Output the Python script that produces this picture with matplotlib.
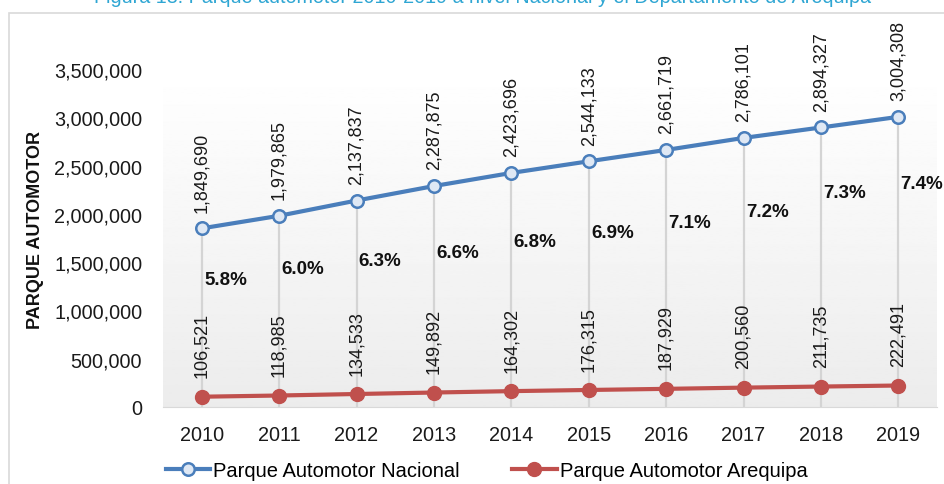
import numpy as np
import matplotlib.pyplot as plt
from matplotlib.patches import Rectangle
from matplotlib.ticker import FuncFormatter

plt.rcParams['font.family'] = ['Liberation Sans', 'DejaVu Sans']

years = [2010, 2011, 2012, 2013, 2014, 2015, 2016, 2017, 2018, 2019]
nacional = [1849690, 1979865, 2137837, 2287875, 2423696, 2544133, 2661719, 2786101, 2894327, 3004308]
arequipa = [106521, 118985, 134533, 149892, 164302, 176315, 187929, 200560, 211735, 222491]
pct_labels = ['5.8%', '6.0%', '6.3%', '6.6%', '6.8%', '6.9%', '7.1%', '7.2%', '7.3%', '7.4%']

# heights where the % labels sit (layout only)
pct_label_y = [1.325e6, 1.43e6, 1.52e6, 1.60e6, 1.71e6, 1.81e6, 1.915e6, 2.02e6, 2.225e6, 2.31e6]

BLUE = '#4a7ebb'
RED = '#c0504d'

fig = plt.figure(figsize=(9.45, 4.85), dpi=100)
ax = fig.add_axes([163 / 945, 77 / 485, 774 / 945, 338 / 485])

# outer frame + title (cut at the top edge, as in the source)
fig.patches.append(Rectangle((9 / 945, -0.1), 1.2, 1 - 14 / 485 + 0.1,
                             transform=fig.transFigure, fill=False,
                             edgecolor='#d9d9d9', linewidth=1.2))
fig.text(483 / 945, 1 - 3 / 485,
         'Figura 18: Parque automotor 2010-2019 a nivel Nacional y el Departamento de Arequipa',
         ha='center', va='baseline', fontsize=14.2, color='#2fa6d3')

# plot area gradient
grad = np.linspace(1.0, 0.925, 256).reshape(-1, 1)
ax.imshow(grad, extent=(2009.5, 2019.5, 0, 3500000), aspect='auto',
          cmap='gray', vmin=0, vmax=1, zorder=0)

# drop lines
ax.vlines(years, 0, nacional, colors='#d4d4d4', linewidth=1.6, zorder=1)

ax.plot(years, nacional, color=BLUE, linewidth=3, marker='o', markersize=9,
        markerfacecolor='#dfe8f4', markeredgecolor=BLUE, markeredgewidth=1.8,
        label='Parque Automotor Nacional', zorder=3)
ax.plot(years, arequipa, color=RED, linewidth=3, marker='o', markersize=10,
        markerfacecolor=RED, markeredgecolor=RED,
        label='Parque Automotor Arequipa', zorder=3)

for x, v in zip(years, nacional):
    ax.annotate(f'{v:,}', (x, v), xytext=(0, 12), textcoords='offset points',
                rotation=90, ha='center', va='bottom', fontsize=13, color='#1a1a1a')
for x, v in zip(years, arequipa):
    ax.annotate(f'{v:,}', (x, v), xytext=(0, 14), textcoords='offset points',
                rotation=90, ha='center', va='bottom', fontsize=13, color='#1a1a1a')
for x, y, t in zip(years, pct_label_y, pct_labels):
    ax.text(x + 0.03, y, t, ha='left', va='center', fontsize=13.5,
            fontweight='bold', color='#111111', clip_on=False)

ax.set_xlim(2009.5, 2019.5)
ax.set_ylim(0, 3500000)
ax.set_xticks(years)
ax.set_yticks(np.arange(0, 3500001, 500000))
ax.yaxis.set_major_formatter(FuncFormatter(lambda v, p: f'{int(v):,}'))
ax.tick_params(axis='both', length=0, labelsize=14.3, colors='#1a1a1a')
ax.tick_params(axis='x', pad=13)
ax.tick_params(axis='y', pad=15)
for s in ['top', 'right', 'left']:
    ax.spines[s].set_visible(False)
ax.spines['bottom'].set_color('#d9d9d9')

ax.set_ylabel('PARQUE AUTOMOTOR', fontsize=13, fontweight='bold', color='#111111')
ax.yaxis.set_label_coords(-119 / 774, (408 - 230) / 338)

ax.legend(loc='center left', bbox_to_anchor=(166 / 945, 1 - 472 / 485),
          bbox_transform=fig.transFigure, ncol=2, frameon=False, fontsize=14.5,
          handlelength=2.2, handletextpad=0.15, columnspacing=2.6, borderpad=0,
          borderaxespad=0)

fig.savefig('out.png', dpi=100)
